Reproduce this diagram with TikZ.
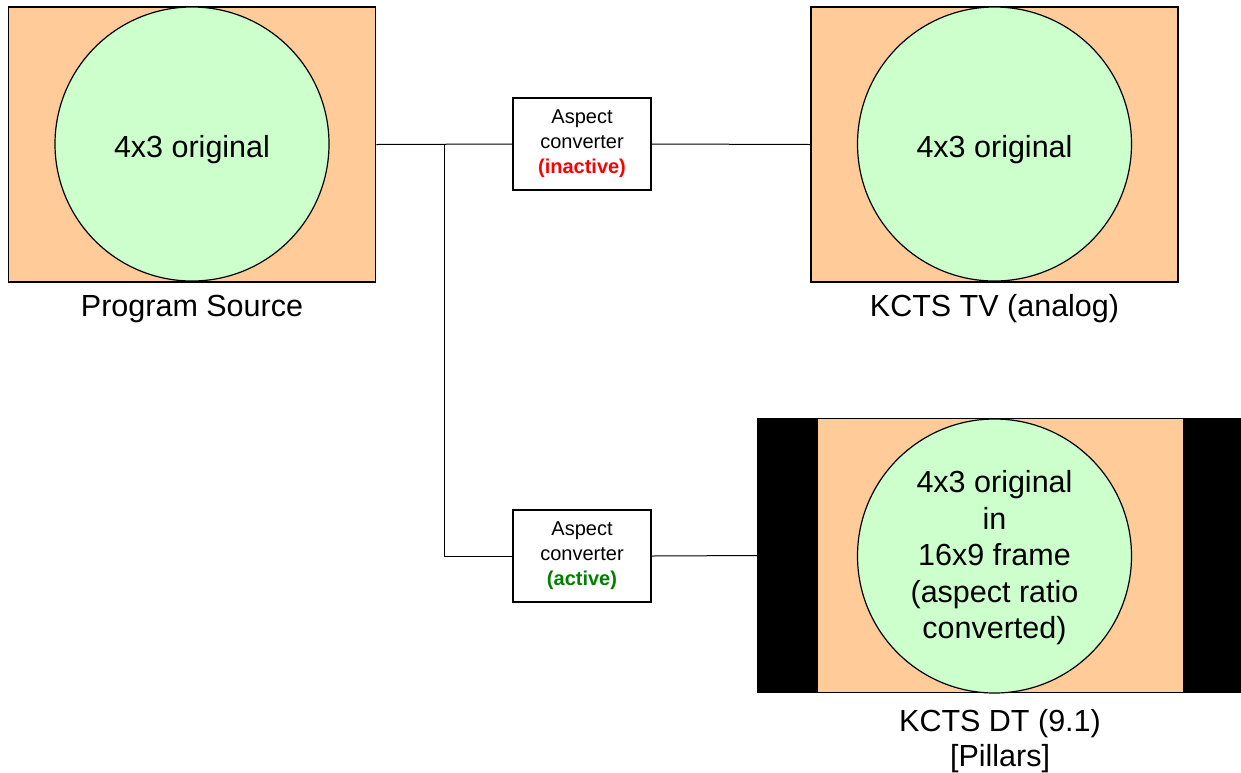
\documentclass[tikz,border=0pt]{standalone}
\usepackage{fontspec}
\setmainfont{Liberation Sans}
\definecolor{peach}{RGB}{255,204,153}
\definecolor{mint}{RGB}{204,255,204}
\definecolor{actgreen}{RGB}{0,128,0}
\begin{document}
\begin{tikzpicture}[x=1pt,y=-1pt,
  screen/.style={draw=black,line width=1.2pt,fill=peach,rectangle,inner sep=0pt,minimum width=367pt,minimum height=275pt},
  picture/.style={draw=black,line width=1.2pt,fill=mint,circle,inner sep=0pt,minimum size=274pt},
  pictext/.style={align=center,inner sep=0pt,font=\fontsize{30.5}{36.5}\selectfont},
  conv/.style={draw=black,line width=1.2pt,fill=white,rectangle,inner sep=0pt,minimum width=138pt,minimum height=92pt,align=center,font=\fontsize{20}{25}\selectfont},
  caption/.style={anchor=base,font=\fontsize{30.5}{35}\selectfont,inner sep=0pt},
  wire/.style={draw=black,line width=1pt}]
\useasboundingbox (0,0) rectangle (1241,772);
% program source
\node[screen] (src) at (192.25,144.5) {};
\node[picture] (srcc) at (192,144) {};
\node[pictext,anchor=base] (srct) at (192,157) {4x3 original};
\node[caption] (srcl) at (192,316) {Program Source};
% KCTS TV
\node[screen] (tv) at (994.5,144.5) {};
\node[picture] (tvc) at (994.5,144) {};
\node[pictext,anchor=base] (tvt) at (994.5,157) {4x3 original};
\node[caption] (tvl) at (994.5,316) {KCTS TV (analog)};
% KCTS DT
\node[fill=black,rectangle,inner sep=0pt,minimum width=484pt,minimum height=275pt] (dt) at (999,555.5) {};
\node[fill=peach,rectangle,inner sep=0pt,minimum width=365pt,minimum height=273pt] (dtin) at (1000.5,555.5) {};
\node[picture] (dtc) at (994.5,556) {};
\node[pictext] (dtt) at (994.5,558) {4x3 original\\in\\16x9 frame\\(aspect ratio\\converted)};
\node[caption] (dtl) at (1000,731) {KCTS DT (9.1)};
\node[caption] (dtl2) at (1000,766) {[Pillars]};
% converters
\node[conv] (c1) at (582,144) {Aspect\\converter\\\textcolor{red}{\bfseries (inactive)}};
\node[conv] (c2) at (582,556) {Aspect\\converter\\\textcolor{actgreen}{\bfseries (active)}};
% wires
\coordinate (j) at (444,144);
\draw[wire] (src.east) -- (c1.west);
\draw[wire] (c1.east) -- (tv.west);
\draw[wire] (j) |- (c2.west);
\draw[wire] (c2.east) -- (dt.west);
\end{tikzpicture}
\end{document}
